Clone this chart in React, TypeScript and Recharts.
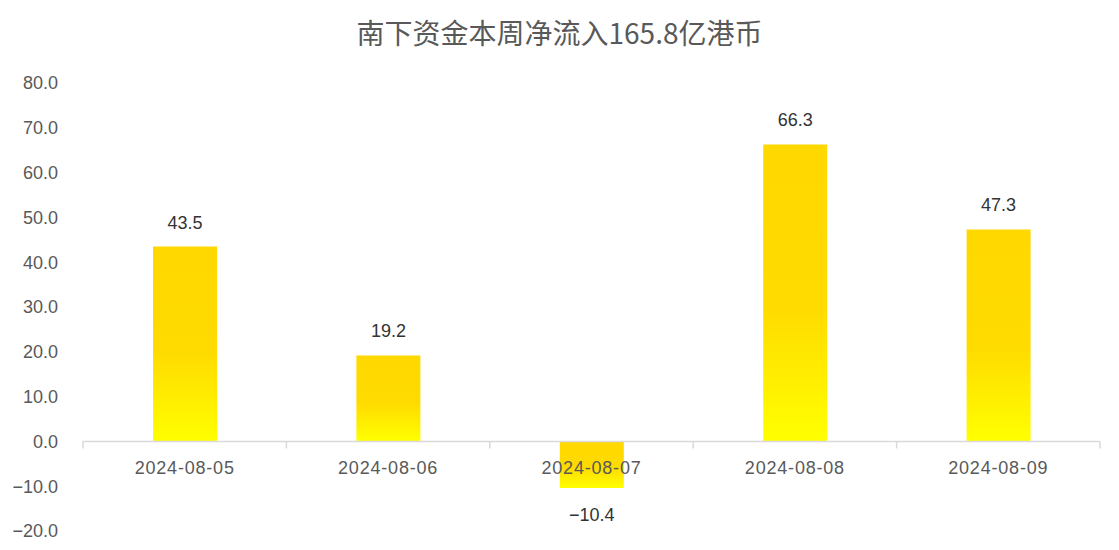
import React from "react"
import { BarChart, Bar, XAxis, YAxis, ReferenceLine, LabelList } from "recharts"

const title = "南下资金本周净流入165.8亿港币"
const dates = ["2024-08-05", "2024-08-06", "2024-08-07", "2024-08-08", "2024-08-09"]
const netInflow = [43.5, 19.2, -10.4, 66.3, 47.3]
const yTicks = [-20, -10, 0, 10, 20, 30, 40, 50, 60, 70, 80]

const data = dates.map((date, i) => ({ date, value: netInflow[i] }))

const FONT = '"Liberation Sans", "Noto Sans CJK SC", sans-serif'

const fmt = (v: number) => (v < 0 ? "\u2212" + Math.abs(v).toFixed(1) : v.toFixed(1))

// zero line drawn as the category axis, with boundary ticks and date labels
function ZeroAxis(props: any) {
  const { x1, x2, y1 } = props
  const n = dates.length
  const step = (x2 - x1) / n
  return (
    <g>
      <line x1={x1} x2={x2} y1={y1} y2={y1} stroke="#d9d9d9" strokeWidth={1.5} />
      {Array.from({ length: n + 1 }, (_, i) => (
        <line key={"t" + i} x1={x1 + i * step} x2={x1 + i * step} y1={y1} y2={y1 + 7} stroke="#d9d9d9" strokeWidth={1.5} />
      ))}
      {dates.map((d, i) => (
        <text
          key={d}
          x={x1 + (i + 0.5) * step}
          y={y1 + 27}
          textAnchor="middle"
          dominantBaseline="central"
          fontSize={18}
          letterSpacing={0.8}
          fill="#595959"
          fontFamily={FONT}
        >
          {d}
        </text>
      ))}
    </g>
  )
}

function ValueLabel(props: any) {
  const { x, y, width, height, value } = props
  const top = Math.min(y, y + height)
  const bottom = Math.max(y, y + height)
  const ty = value >= 0 ? top - 24 : bottom + 27
  return (
    <text x={x + width / 2} y={ty} textAnchor="middle" dominantBaseline="central" fontSize={18} fill="#333" fontFamily={FONT}>
      {fmt(value)}
    </text>
  )
}

export default function App() {
  return (
    <div style={{ position: "absolute", left: 0, top: 0, width: 1119, height: 550, background: "#fff", fontFamily: FONT }}>
      <div
        style={{
          position: "absolute",
          left: 0,
          right: 0,
          top: 12,
          textAlign: "center",
          fontSize: 28,
          lineHeight: "40px",
          color: "#595959",
          fontFamily: '"Noto Sans CJK SC", sans-serif',
        }}
      >
        {title}
      </div>
      <BarChart width={1119} height={550} data={data} margin={{ top: 83, right: 19, bottom: 19, left: 0 }}>
        <defs>
          <linearGradient id="goldGrad" x1="0" y1="0" x2="0" y2="1">
            <stop offset="0%" stopColor="#FFD800" />
            <stop offset="55%" stopColor="#FFDB00" />
            <stop offset="100%" stopColor="#FFFF00" />
          </linearGradient>
        </defs>
        <XAxis dataKey="date" hide />
        <YAxis
          width={83}
          domain={[-20, 80]}
          ticks={yTicks}
          interval={0}
          axisLine={false}
          tickLine={false}
          tickSize={0}
          tickMargin={25}
          tickFormatter={fmt}
          tick={{ fontSize: 18, fill: "#595959", fontFamily: FONT }}
        />
        <Bar dataKey="value" fill="url(#goldGrad)" barSize={64} isAnimationActive={false}>
          <LabelList dataKey="value" content={ValueLabel} />
        </Bar>
        <ReferenceLine y={0} shape={ZeroAxis} />
      </BarChart>
    </div>
  )
}
